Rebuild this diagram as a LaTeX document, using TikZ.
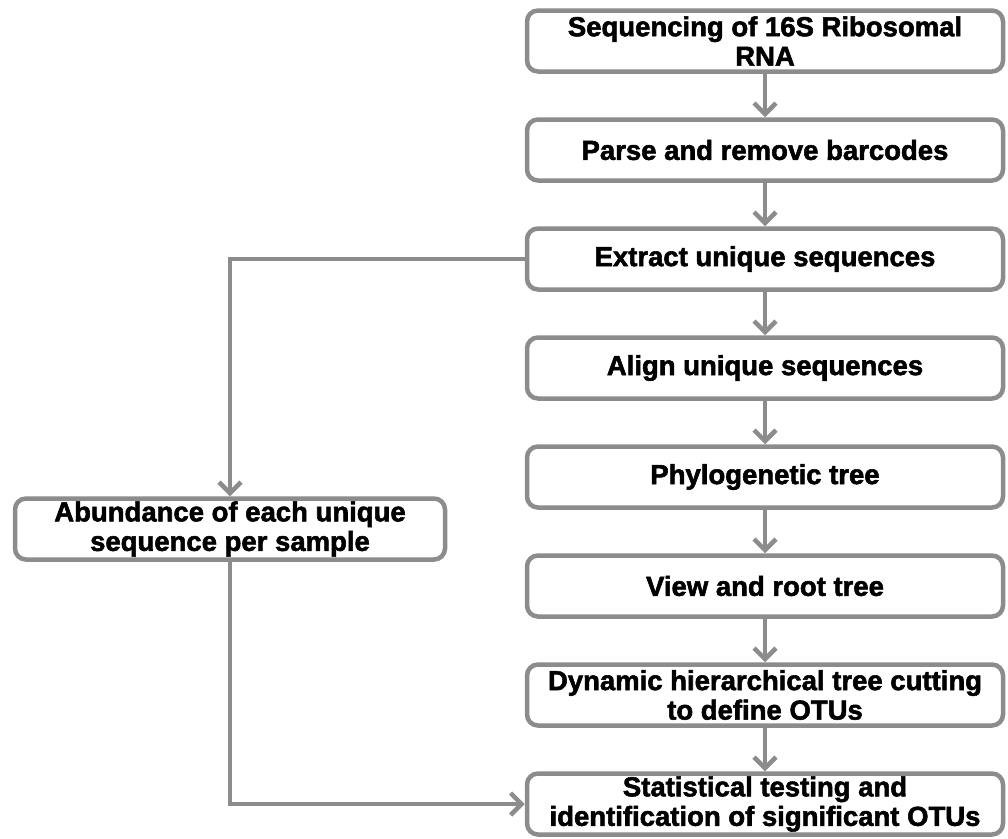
\documentclass[tikz,border=0pt]{standalone}
\usepackage{fontspec}
\setmainfont{Liberation Sans}[BoldFeatures={FakeBold=2}]
\usepackage{tikz}
\usetikzlibrary{arrows.meta,positioning}

\definecolor{linegray}{RGB}{140,140,140}

\begin{document}
\begin{tikzpicture}[node distance={109pt}, line width=4.5pt,
        main/.style = {draw=linegray, rounded corners=11pt, minimum width=476pt, minimum height=61pt,
            align=center, inner sep=2pt, font=\fontsize{27.5}{29.5}\selectfont\bfseries},
        arr/.style = {draw=linegray, -{Straight Barb[length=11pt, width=22pt]}}]
        \useasboundingbox (0,0) rectangle (1008pt,-838pt);
        \node[main] (1) at (765pt,-41pt) {Sequencing of 16S Ribosomal\\RNA};
        \node[main] (2) [below of=1] {Parse and remove barcodes};
        \node[main] (3) [below of=2] {Extract unique sequences};
        \node[main] (4) [below of=3] {Align unique sequences};
        \node[main] (5) [below of=4] {Phylogenetic tree};
        \node[main] (6) [below of=5] {View and root tree};
        \node[main] (7) [below of=6] {Dynamic hierarchical tree cutting\\to define OTUs};
        \node[main] (8) [below of=7] {Statistical testing and\\identification of significant OTUs};
        \node[main, minimum width=430pt] (a) at (230pt,-529pt) {Abundance of each unique\\sequence per sample};
        \draw[arr] (1) -- (2);
        \draw[arr] (2) -- (3);
        \draw[arr] (3) -- (4);
        \draw[arr] (4) -- (5);
        \draw[arr] (5) -- (6);
        \draw[arr] (6) -- (7);
        \draw[arr] (7) -- (8);
        \draw[arr] (3) -| (a);
        \draw[arr] (a) |- (8);
    \end{tikzpicture}
\end{document}
